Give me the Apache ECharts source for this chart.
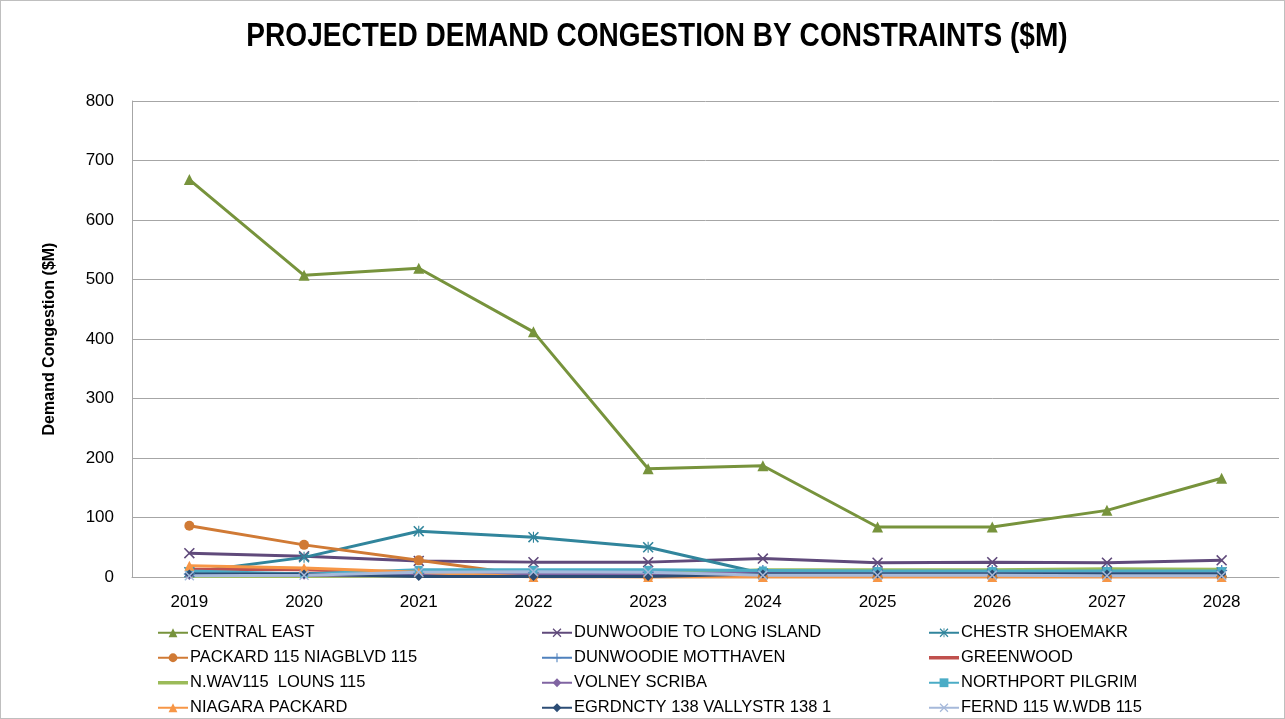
<!DOCTYPE html>
<html>
<head>
<meta charset="utf-8">
<script src="https://cdn.jsdelivr.net/npm/echarts@6/dist/echarts.min.js"></script>
<style>
  html, body { margin: 0; padding: 0; background: #fff; }
  #chart { width: 1285px; height: 719px; box-sizing: border-box; border: 1px solid #bfbfbf; }
</style>
</head>
<body>
<div id="chart"></div>
<script>
const years = ['2019', '2020', '2021', '2022', '2023', '2024', '2025', '2026', '2027', '2028']
const yTicks = [0, 100, 200, 300, 400, 500, 600, 700, 800]

const centralEast = [668, 507, 519, 412, 182, 187, 84, 84, 112, 166]
const dunwoodieLongIsland = [40, 35, 27, 25, 25, 31, 24, 25, 24, 28]
const chestrShoemakr = [8, 33, 77, 67, 50, 6, 6, 6, 8, 8]
const packardNiagblvd = [86, 54, 28, 2, 0, 0, 0, 0, 0, 0]
const dunwoodieMotthaven = [5, 6, 6, 7, 8, 11, 11, 11, 12, 11]
const greenwood = [13, 12, 6, 3, 3, 3, 3, 3, 3, 3]
const nWavLouns = [1, 1, 2, 3, 5, 12, 12, 12, 14, 13]
const volneyScriba = [3, 3, 3, 4, 4, 8, 8, 8, 8, 8]
const northportPilgrim = [10, 5, 12, 12, 12, 11, 10, 10, 10, 10]
const niagaraPackard = [19, 15, 8, 0, 0, 0, 0, 0, 0, 0]
const egrdnctyVallystr = [5, 5, 1, 1, 1, 5, 5, 5, 5, 5]
const ferndWwdb = [2, 3, 8, 9, 8, 3, 3, 3, 2, 2]

const FONT = "'Liberation Sans Narrow', 'Arial Narrow', 'Liberation Sans', sans-serif"
const X_PATH = 'path://M0,1L1,0L5,4L9,0L10,1L6,5L10,9L9,10L5,6L1,10L0,9L4,5Z'
const STAR_PATH = 'path://M0,1L1,0L4.5,3.5L4.5,0L5.5,0L5.5,3.5L9,0L10,1L6,5L10,9L9,10L5.5,6.5L5.5,10L4.5,10L4.5,6.5L1,10L0,9L4,5Z'
const PLUS_PATH = 'path://M4.4,0L5.6,0L5.6,4.4L10,4.4L10,5.6L5.6,5.6L5.6,10L4.4,10L4.4,5.6L0,5.6L0,4.4L4.4,4.4Z'
const BAR_PATH = 'path://M0,0L30,0L30,3.5L0,3.5Z'

function makeSeries (name, data, color, symbol, size) {
  return {
    name: name,
    type: 'line',
    data: data,
    symbol: symbol || 'none',
    showSymbol: !!symbol,
    symbolSize: size || 9,
    itemStyle: { color: color },
    lineStyle: { color: color, width: 3 },
    emphasis: { disabled: true },
    animation: false
  }
}

const series = [
  makeSeries('CENTRAL EAST', centralEast, '#77933C', 'triangle', 11),
  makeSeries('DUNWOODIE TO LONG ISLAND', dunwoodieLongIsland, '#604A7B', X_PATH, 11),
  makeSeries('CHESTR SHOEMAKR', chestrShoemakr, '#31859C', STAR_PATH, 11),
  makeSeries('PACKARD 115 NIAGBLVD 115', packardNiagblvd, '#D07A35', 'circle', 10),
  makeSeries('DUNWOODIE MOTTHAVEN', dunwoodieMotthaven, '#4F81BD', PLUS_PATH, 11),
  makeSeries('GREENWOOD', greenwood, '#C0504D'),
  makeSeries('N.WAV115  LOUNS 115', nWavLouns, '#9BBB59'),
  makeSeries('VOLNEY SCRIBA', volneyScriba, '#8064A2', 'diamond', 9),
  makeSeries('NORTHPORT PILGRIM', northportPilgrim, '#4BACC6', 'rect', 8),
  makeSeries('NIAGARA PACKARD', niagaraPackard, '#F79646', 'triangle', 10),
  makeSeries('EGRDNCTY 138 VALLYSTR 138 1', egrdnctyVallystr, '#2C4D75', 'diamond', 9),
  makeSeries('FERND 115 W.WDB 115', ferndWwdb, '#A6B9DA', X_PATH, 10)
]

function legendItem (s) {
  return s.symbol === 'none' ? { name: s.name, icon: BAR_PATH } : { name: s.name }
}

function legendColumn (left, items) {
  return {
    orient: 'vertical',
    left: left,
    top: 622,
    height: 97,
    itemWidth: 30,
    itemHeight: 11,
    itemGap: 5.5,
    padding: 0,
    selectedMode: false,
    textStyle: { fontFamily: FONT, fontSize: 16.5, lineHeight: 19.5, color: '#000', padding: [0, 0, 0, -3] },
    data: items.map(legendItem)
  }
}

const chart = echarts.init(document.getElementById('chart'))
chart.setOption({
  backgroundColor: '#fff',
  graphic: [{
    type: 'text',
    x: 656,
    y: 36,
    scaleX: 0.85,
    silent: true,
    style: {
      text: 'PROJECTED DEMAND CONGESTION BY CONSTRAINTS ($M)',
      font: 'bold 33px ' + FONT,
      fill: '#000',
      align: 'center',
      verticalAlign: 'middle'
    }
  }],
  grid: { left: 131, right: 5, top: 100, bottom: 141, containLabel: false },
  legend: [
    legendColumn(156, [series[0], series[3], series[6], series[9]]),
    legendColumn(540, [series[1], series[4], series[7], series[10]]),
    legendColumn(927, [series[2], series[5], series[8], series[11]])
  ],
  xAxis: {
    type: 'category',
    data: years,
    boundaryGap: true,
    axisLine: { lineStyle: { color: '#a6a6a6', width: 1 } },
    axisTick: { show: false },
    axisLabel: { fontFamily: FONT, fontSize: 17, color: '#000', margin: 17 }
  },
  yAxis: {
    type: 'value',
    min: yTicks[0],
    max: yTicks[yTicks.length - 1],
    interval: 100,
    name: 'Demand Congestion ($M)',
    nameLocation: 'middle',
    nameGap: 74,
    nameTextStyle: { fontFamily: FONT, fontSize: 16, fontWeight: 'bold', color: '#000' },
    axisLine: { show: true, lineStyle: { color: '#a6a6a6', width: 1 } },
    axisTick: { show: false },
    splitLine: { lineStyle: { color: '#a6a6a6', width: 1 } },
    axisLabel: { fontFamily: FONT, fontSize: 17, color: '#000', margin: 18 }
  },
  series: series
})
</script>
</body>
</html>
